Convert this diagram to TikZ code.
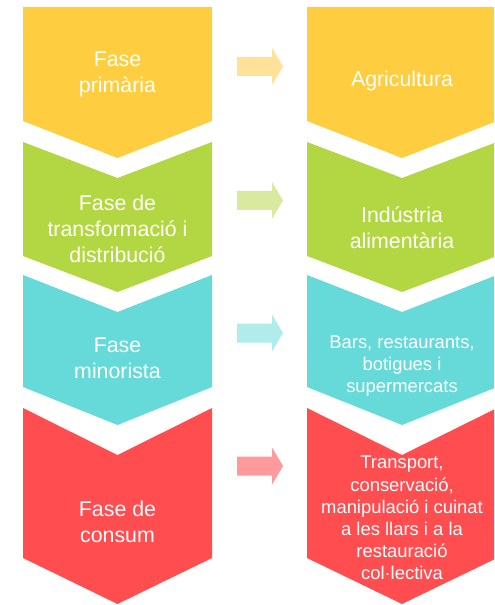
\documentclass[tikz,border=0pt]{standalone}
\usepackage{fontspec}
\setmainfont{Liberation Sans}
\usetikzlibrary{positioning}
\definecolor{phaseYellow}{RGB}{255,205,64}
\definecolor{phaseGreen}{RGB}{178,215,66}
\definecolor{phaseCyan}{RGB}{102,217,217}
\definecolor{phaseRed}{RGB}{255,77,80}
\definecolor{arrowYellow}{RGB}{255,226,153}
\definecolor{arrowGreen}{RGB}{217,234,160}
\definecolor{arrowCyan}{RGB}{176,236,236}
\definecolor{arrowRed}{RGB}{255,154,156}

\begin{document}
\begin{tikzpicture}[x=0.75pt, y=-0.75pt]
		\tikzstyle{phaseText} = [text=white, align=center, inner sep=0pt, font=\fontsize{16}{19.5}\selectfont]
		\tikzstyle{detailText} = [text=white, align=center, inner sep=0pt, font=\fontsize{13.8}{16.6}\selectfont]
		\useasboundingbox (0,0) rectangle (494,605);
		\clip (0,0) rectangle (494,605);
		
		% Chevrons (left: phases, right: details)
		\foreach \top/\notch/\side/\tip/\col in {7/0/121/37/phaseYellow, 142/36/256/36/phaseGreen, 275/37/387/38/phaseCyan, 408/47/558/46/phaseRed}{
			\foreach \xl/\xr in {23/212, 307/497}{
				\fill[\col] (\xl,\top) -- ({(\xl+\xr)/2},{\top+\notch}) -- (\xr,\top) -- (\xr,\side) -- ({(\xl+\xr)/2},{\side+\tip}) -- (\xl,\side) -- cycle;
			}
		}
		
		% Block arrows between the columns
		\foreach \yc/\col in {66.5/arrowYellow, 200.5/arrowGreen, 333/arrowCyan, 466/arrowRed}{
			\fill[\col] (237,{\yc-9.5}) -- (272,{\yc-9.5}) -- (272,{\yc-18.5}) -- (283,\yc) -- (272,{\yc+18.5}) -- (272,{\yc+9.5}) -- (237,{\yc+9.5}) -- cycle;
		}
		
		% Labels
		%% Phases
		\node[phaseText] (phasePrim) at (117.5,74) {Fase\\primària};
		\node[phaseText] (phaseTrans) at (117.5,229) {Fase de\\transformació i\\distribució};
		\node[phaseText] (phaseRetail) at (117.5,358) {Fase\\minorista};
		\node[phaseText] (phaseCons) at (117.5,522) {Fase de\\consum};
		%% Details
		\node[phaseText] (detailPrim) at (402,81) {Agricultura};
		\node[phaseText] (detailTrans) at (402,228) {Indústria\\alimentària};
		\node[detailText] (detailRetail) at (402,366) {Bars, restaurants,\\botigues i\\supermercats};
		\node[detailText] (detailCons) at (402,518) {Transport,\\conservació,\\manipulació i cuinat\\a les llars i a la\\restauració\\col·lectiva};
	\end{tikzpicture}
\end{document}
